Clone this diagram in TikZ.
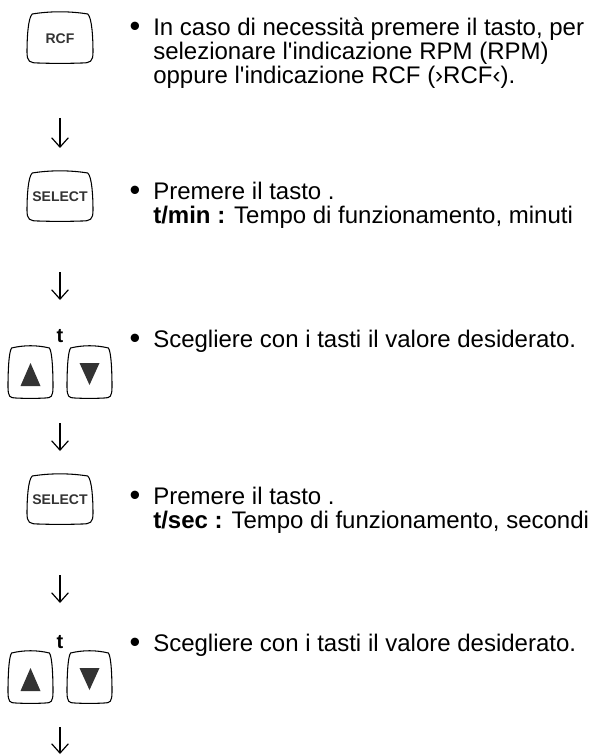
\documentclass[tikz,border=0pt]{standalone}
\usepackage{fontspec}
\setmainfont[Ligatures=TeXOff]{Liberation Sans}
\usetikzlibrary{arrows.meta}
\definecolor{keygray}{HTML}{333333}
\tikzset{
  keyline/.style = {line width=0.8pt},
  keylbl/.style  = {font=\fontsize{10.5}{11}\selectfont\bfseries,text=keygray,inner sep=0pt},
  tlbl/.style    = {font=\fontsize{15}{16}\selectfont\bfseries,inner sep=0pt},
  txt/.style     = {font=\fontsize{18}{19}\selectfont,anchor=base west,inner sep=0pt},
  bul/.style     = {font=\fontsize{23}{24}\selectfont,anchor=base,inner sep=0pt},
  flow/.style    = {-{Straight Barb[length=7pt,width=12.5pt]},line width=0.9pt},
  tri/.style     = {fill=keygray}
}
% outline of a key round node #1, half width #2, half height #3
\newcommand{\keyoutline}[3]{%
  \draw[keyline,shift={(#1.center)}]
    (-0.84*#2,-#3) .. controls (-0.3*#2,-1.12*#3) and (0.3*#2,-1.12*#3) .. (0.84*#2,-#3)
    .. controls (0.97*#2,-0.85*#3) and (#2,0*#3) .. (#2,0.55*#3)
    .. controls (#2,0.95*#3) and (0.92*#2,#3) .. (0.65*#2,#3)
    .. controls (0.3*#2,1.02*#3) and (-0.3*#2,1.02*#3) .. (-0.65*#2,#3)
    .. controls (-0.92*#2,#3) and (-#2,0.95*#3) .. (-#2,0.55*#3)
    .. controls (-#2,0*#3) and (-0.97*#2,-0.85*#3) .. (-0.84*#2,-#3) -- cycle;
}
% up and down keys round nodes #1 and #2
\newcommand{\arrowkeys}[2]{%
  \keyoutline{#1}{22.5}{25}
  \keyoutline{#2}{22.5}{25}
  \fill[tri] ([shift={(0,-10)}]#1.center) -- ([shift={(10,13)}]#1.center) -- ([shift={(-10,13)}]#1.center) -- cycle;
  \fill[tri] ([shift={(-10,-10)}]#2.center) -- ([shift={(10,-10)}]#2.center) -- ([shift={(0,12)}]#2.center) -- cycle;
}

\begin{document}
\begin{tikzpicture}[x=0.75pt,y=-0.75pt]
  \useasboundingbox (0,0) rectangle (592,755);

  % step 1
  \node[keylbl] (rcf) at (60,38.5) {RCF};
  \keyoutline{rcf}{33}{24.5}
  \node[bul] (b1) at (135,37) {•};
  \node[txt] (l1a) at (153,36) {In caso di necessità premere il tasto, per};
  \node[txt] (l1b) at (153,60) {selezionare l'indicazione RPM (RPM)};
  \node[txt] (l1c) at (153,84) {oppure l'indicazione RCF (›RCF‹).};
  \coordinate (a1s) at (60,118);
  \coordinate (a1e) at (60,148);
  \draw[flow] (a1s) -- (a1e);

  % step 2
  \node[keylbl] (sel1) at (60,197) {SELECT};
  \keyoutline{sel1}{33}{24}
  \node[bul] (b2) at (135,201) {•};
  \node[txt] (l2a) at (153,200) {Premere il tasto .};
  \node[txt] (l2b) at (153,224) {\textbf{t/min :} Tempo di funzionamento, minuti};
  \coordinate (a2s) at (60,272);
  \coordinate (a2e) at (60,300);
  \draw[flow] (a2s) -- (a2e);

  % step 3
  \node[tlbl] (t1) at (60,336) {t};
  \coordinate (up1) at (30.5,373);
  \coordinate (dn1) at (89.5,373);
  \arrowkeys{up1}{dn1}
  \node[bul] (b3) at (135,348) {•};
  \node[txt] (l3a) at (153,347) {Scegliere con i tasti il valore desiderato.};
  \coordinate (a3s) at (60,423);
  \coordinate (a3e) at (60,451);
  \draw[flow] (a3s) -- (a3e);

  % step 4
  \node[keylbl] (sel2) at (60,500) {SELECT};
  \keyoutline{sel2}{33}{24}
  \node[bul] (b4) at (135,505) {•};
  \node[txt] (l4a) at (153,504) {Premere il tasto .};
  \node[txt] (l4b) at (153,528) {\textbf{t/sec :} Tempo di funzionamento, secondi};
  \coordinate (a4s) at (60,575);
  \coordinate (a4e) at (60,603);
  \draw[flow] (a4s) -- (a4e);

  % step 5
  \node[tlbl] (t2) at (60,642) {t};
  \coordinate (up2) at (30.5,678);
  \coordinate (dn2) at (89.5,678);
  \arrowkeys{up2}{dn2}
  \node[bul] (b5) at (135,652) {•};
  \node[txt] (l5a) at (153,651) {Scegliere con i tasti il valore desiderato.};
  \coordinate (a5s) at (60,727);
  \coordinate (a5e) at (60,754);
  \draw[flow] (a5s) -- (a5e);
\end{tikzpicture}
\end{document}
